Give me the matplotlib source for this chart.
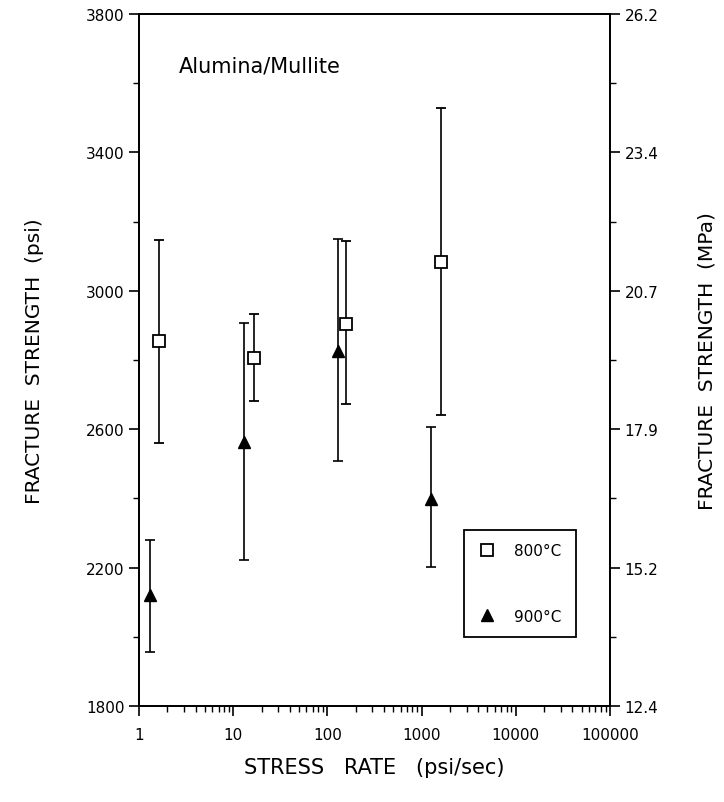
import matplotlib
matplotlib.use("Agg")
import matplotlib.pyplot as plt
from matplotlib.ticker import FixedLocator, NullFormatter, LogLocator
from matplotlib.lines import Line2D

# Data
rate_800 = [1.64, 16.6, 157, 1595]
str_800 = [2854, 2806, 2905, 3083]
lo_800 = [2559, 2682, 2672, 2641]
hi_800 = [3146, 2934, 3143, 3528]

rate_900 = [1.31, 13.1, 129, 1250]
str_900 = [2120, 2563, 2827, 2399]
lo_900 = [1956, 2222, 2509, 2201]
hi_900 = [2280, 2908, 3151, 2605]

psi_ticks = [1800, 2200, 2600, 3000, 3400, 3800]
mpa_labels = ["12.4", "15.2", "17.9", "20.7", "23.4", "26.2"]
x_ticks = [1, 10, 100, 1000, 10000, 100000]
x_labels = ["1", "10", "100", "1000", "10000", "100000"]

plt.rcParams['font.family'] = ['DejaVu Sans']

fig = plt.figure(figsize=(7.24, 8.03), dpi=100)
ax = fig.add_axes([0.192, 0.1196, 0.6505, 0.8617])

err_800 = [[s - l for s, l in zip(str_800, lo_800)], [h - s for s, h in zip(str_800, hi_800)]]
err_900 = [[s - l for s, l in zip(str_900, lo_900)], [h - s for s, h in zip(str_900, hi_900)]]

ax.errorbar(rate_800, str_800, yerr=err_800, fmt='s', mfc='white', mec='black', mew=1.3,
            ms=8, ecolor='black', elinewidth=1.2, capsize=3.5, capthick=1.2, zorder=3)
ax.errorbar(rate_900, str_900, yerr=err_900, fmt='^', mfc='black', mec='black',
            ms=9, ecolor='black', elinewidth=1.2, capsize=3.5, capthick=1.2, zorder=3)

ax.set_xscale('log')
ax.set_xlim(1, 100000)
ax.set_ylim(1800, 3800)
ax.set_xticks(x_ticks)
ax.set_xticklabels(x_labels)
ax.xaxis.set_minor_locator(LogLocator(base=10, subs=range(2, 10), numticks=20))
ax.xaxis.set_minor_formatter(NullFormatter())
ax.set_yticks(psi_ticks)
ax.yaxis.set_minor_locator(FixedLocator(range(2000, 3800, 400)))

for sp in ax.spines.values():
    sp.set_linewidth(1.3)

ax.tick_params(axis='both', which='major', direction='out', length=7, width=1.2, labelsize=11)
ax.tick_params(axis='both', which='minor', direction='out', length=4, width=1.0)
ax.tick_params(axis='x', which='major', pad=8)

ax2 = ax.twinx()
ax2.set_ylim(1800, 3800)
ax2.set_yticks(psi_ticks)
ax2.set_yticklabels(mpa_labels)
ax2.yaxis.set_minor_locator(FixedLocator(range(2000, 3800, 400)))
ax2.tick_params(axis='y', which='major', direction='out', length=7, width=1.2, labelsize=11)
ax2.tick_params(axis='y', which='minor', direction='out', length=4, width=1.0)
for sp in ax2.spines.values():
    sp.set_linewidth(1.3)

ax.set_xlabel('STRESS   RATE   (psi/sec)', fontsize=15, labelpad=11)
ax.set_ylabel('FRACTURE  STRENGTH  (psi)', fontsize=14.5, labelpad=30)
ax2.set_ylabel('FRACTURE  STRENGTH  (MPa)', fontsize=14.5, labelpad=28)

ax.text(0.085, 0.925, 'Alumina/Mullite', transform=ax.transAxes, fontsize=15,
        ha='left', va='center')

handles = [
    Line2D([], [], linestyle='none', marker='s', mfc='white', mec='black', mew=1.3, ms=8),
    Line2D([], [], linestyle='none', marker='^', mfc='black', mec='black', ms=9),
]
leg = ax.legend(handles, ['800°C', '900°C'], loc='upper left', bbox_to_anchor=(0.69, 0.255),
                frameon=True, fancybox=False, edgecolor='black', framealpha=1, fontsize=11,
                labelspacing=3.3, handletextpad=1.2, borderpad=0.9, handlelength=1.2,
                borderaxespad=0)
leg.get_frame().set_linewidth(1.3)

fig.savefig('out.png', dpi=100)
